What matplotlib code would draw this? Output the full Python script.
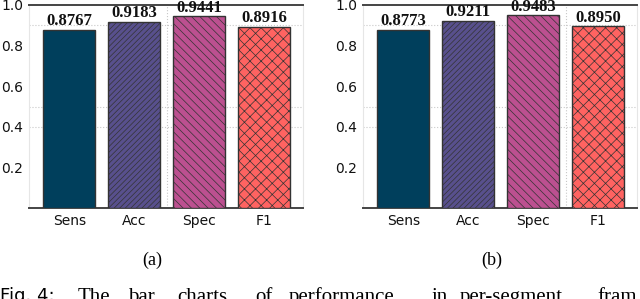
import numpy as np
import matplotlib
matplotlib.use("Agg")
import matplotlib.pyplot as plt

# metrics shown on both panels
metrics = ["Sens", "Acc", "Spec", "F1"]
scores_a = [0.8767, 0.9183, 0.9441, 0.8916]
scores_b = [0.8773, 0.9211, 0.9483, 0.8950]
bar_colors = ["#003f5c", "#58508d", "#bc5090", "#ff6361"]
hatches = ["", "//////", "\\\\\\\\", "xxx"]
yticks = [0.2, 0.4, 0.6, 0.8, 1.0]

# caption words (the caption is justified in the source page)
caption_words = ["The", "bar", "charts", "of", "performance", "in", "per-segment", "fram"]
caption_x = [78, 128, 177, 255, 289, 432, 460, 597]

plt.rcParams["hatch.color"] = (0.1, 0.1, 0.15, 0.3)
plt.rcParams["hatch.linewidth"] = 0.5

fig = plt.figure(figsize=(6.4, 2.99), dpi=100)
ax_a = fig.add_axes([29 / 640, 91 / 299, 274 / 640, 203 / 299])
ax_b = fig.add_axes([363 / 640, 91 / 299, 274 / 640, 203 / 299])


def draw_panel(ax, scores, vgrid):
    x = np.arange(len(metrics))
    bars = ax.bar(x, scores, width=0.8, color=bar_colors,
                  edgecolor="#333333", linewidth=1.0, zorder=3)
    for b, h in zip(bars, hatches):
        b.set_hatch(h)
    for xi, v in zip(x, scores):
        ax.text(xi, v + 0.003, "%.4f" % v, ha="center", va="bottom",
                family="Liberation Serif", fontweight="bold", fontsize=12,
                color="#111111", zorder=4)
    # faint dotted guide lines (as they survive in the reference)
    for yv in [0.4, 0.5, 0.9]:
        ax.axhline(yv, color="#c8c8c8", linestyle=":", linewidth=0.8, zorder=1)
    ax.axvline(vgrid, color="#c8c8c8", linestyle=":", linewidth=0.8, zorder=1)
    ax.set_xlim(-0.62, 3.6)
    ax.set_ylim(0, 1.0)
    ax.set_xticks(x)
    ax.set_xticklabels(metrics, fontsize=10)
    ax.set_yticks(yticks)
    ax.set_yticklabels(["%.1f" % t for t in yticks], fontsize=10)
    ax.tick_params(length=0, pad=4, colors="#111111")
    for side in ["left", "right"]:
        ax.spines[side].set_color("#e6e6e6")
        ax.spines[side].set_linewidth(0.8)
    for side in ["top", "bottom"]:
        ax.spines[side].set_color("#444444")
        ax.spines[side].set_linewidth(1.4)


draw_panel(ax_a, scores_a, 1.5)
draw_panel(ax_b, scores_b, 2.5)

fig.text(152 / 640, 1 - 260 / 299, "(a)", ha="center", va="center",
         family="Liberation Serif", fontsize=13)
fig.text(492 / 640, 1 - 260 / 299, "(b)", ha="center", va="center",
         family="Liberation Serif", fontsize=13)
fig.text(0.0, 1 - 301 / 299, "Fig. 4:", ha="left", va="baseline",
         family="DejaVu Sans", fontsize=13)
for w, xp in zip(caption_words, caption_x):
    fig.text(xp / 640, 1 - 301.5 / 299, w, ha="left", va="baseline",
             family="Liberation Serif", fontsize=15)

fig.savefig("out.png", dpi=100)
